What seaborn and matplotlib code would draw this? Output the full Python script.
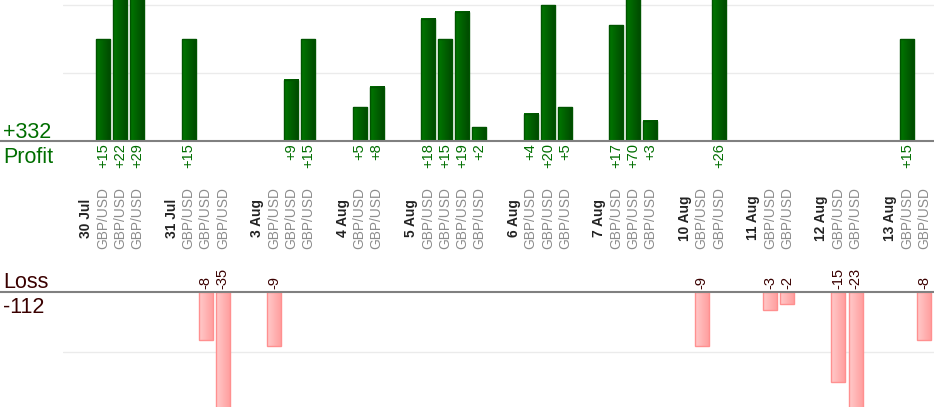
import matplotlib.pyplot as plt
import matplotlib.transforms as mtransforms
from matplotlib.colors import LinearSegmentedColormap
import numpy as np
import pandas as pd
import seaborn as sns

# данные: дни и результаты сделок (в пунктах)
dates = ["30 Jul", "31 Jul", "3 Aug", "4 Aug", "5 Aug", "6 Aug",
         "7 Aug", "10 Aug", "11 Aug", "12 Aug", "13 Aug"]
trade_results = [
    [15, 22, 29],
    [15, -8, -35],
    [-9, 9, 15],
    [5, 8],
    [18, 15, 19, 2],
    [4, 20, 5],
    [17, 70, 3],
    [-9, 26],
    [-3, -2],
    [-15, -23],
    [15, -8],
]
pair = "GBP/USD"
total_profit = "+332"
total_loss = "-112"

sns.set_style("white")
plt.rcParams['font.family'] = ['Liberation Sans', 'DejaVu Sans']

# слоты: дата, сделки, пустой промежуток
rows = []
for i, (d, res) in enumerate(zip(dates, trade_results)):
    rows.append(dict(label=d, kind="date", value=np.nan))
    for v in res:
        rows.append(dict(label=pair, kind="trade", value=v))
    if i < len(dates) - 1:
        rows.append(dict(label="", kind="gap", value=np.nan))
df = pd.DataFrame(rows)
df["slot"] = np.arange(len(df))
order = list(df["slot"])

W, H = 934, 420
fig = plt.figure(figsize=(W / 100, H / 100), dpi=100)


def px_axes(left, top, right, bottom):
    return fig.add_axes([left / W, 1 - bottom / H, (right - left) / W, (bottom - top) / H])


ax_p = px_axes(63, 0, 934, 141)
ax_l = px_axes(63, 292, 934, 407)

green = "#006e00"
dark = "#3a0000"

prof = df[df["value"] > 0]
loss = df[df["value"] < 0]
sns.barplot(data=prof, x="slot", y="value", order=order, width=0.82,
            errorbar=None, color="#005f00", ax=ax_p)
sns.barplot(data=loss, x="slot", y="value", order=order, width=0.82,
            errorbar=None, color="#ffaaaa", ax=ax_l)

xlim = (-1.345, 49.585)
ylims = {ax_p: (0, 20.74), ax_l: (-19.07, 0)}


def gradient_bars(ax, colors, edge):
    # горизонтальный градиент внутри каждого столбца
    cmap = LinearSegmentedColormap.from_list("grad", colors)
    grad = np.linspace(0, 1, 64).reshape(1, -1)
    lo, hi = ylims[ax]
    for p in list(ax.patches):
        h = p.get_height()
        if not np.isfinite(h) or h == 0:
            continue
        x0, y0, w = p.get_x(), p.get_y(), p.get_width()
        b = max(min(y0, y0 + h), lo)
        t = min(max(y0, y0 + h), hi)
        ax.imshow(grad, extent=[x0, x0 + w, b, t], cmap=cmap, aspect="auto",
                  interpolation="bilinear", zorder=2)
        p.set_facecolor("none")
        p.set_edgecolor(edge)
        p.set_linewidth(1.0)
        p.set_zorder(3)


gradient_bars(ax_p, ["#007800", "#004800"], "#005400")
gradient_bars(ax_l, ["#ffcaca", "#ff9c9c"], "#ff9090")

for ax in (ax_p, ax_l):
    ax.set_xlim(*xlim)
    ax.set_ylim(*ylims[ax])
    ax.set_xlabel("")
    ax.set_ylabel("")
    ax.set_xticks([])
    ax.tick_params(length=0, labelleft=False)
    ax.yaxis.grid(True, color="#ebebeb", lw=1)
    ax.set_axisbelow(True)
    for s in ax.spines.values():
        s.set_visible(False)

ax_p.set_yticks([10, 20])
ax_l.set_yticks([-10])

# нулевые линии через всю ширину
ax_p.axhline(0, xmin=-63 / 871, xmax=1, color="#808080", lw=1.5, clip_on=False, zorder=5)
ax_l.axhline(0, xmin=-63 / 871, xmax=1, color="#808080", lw=1.5, clip_on=False, zorder=5)

# подписи значений
for _, r in prof.iterrows():
    ax_p.text(r["slot"], -2 / 6.8, f"+{int(r['value'])}", rotation=90,
              ha="center", va="top", color=green, fontsize=10.5)
for _, r in loss.iterrows():
    ax_l.text(r["slot"], 3 / 6.03, f"{int(r['value'])}", rotation=90,
              ha="center", va="bottom", color=dark, fontsize=10.5)

# подписи оси X
trans = mtransforms.blended_transform_factory(ax_p.transData, fig.transFigure)
for _, r in df.iterrows():
    if r["kind"] == "date":
        ax_p.text(r["slot"], 1 - 218 / H, r["label"], transform=trans, rotation=90,
                  ha="center", va="center", fontsize=9.9, fontweight="bold", color="#222222")
    elif r["kind"] == "trade":
        ax_p.text(r["slot"], 1 - 218 / H, r["label"], transform=trans, rotation=90,
                  ha="center", va="center", fontsize=9.9, color="#8c8c8c")

# итоги слева
fig.text(3 / W, 1 - 138 / H, total_profit, va="baseline", ha="left", fontsize=15.5, color=green)
fig.text(3 / W, 1 - 163 / H, "Profit", va="baseline", ha="left", fontsize=15.5, color=green)
fig.text(3 / W, 1 - 288 / H, "Loss", va="baseline", ha="left", fontsize=15.5, color=dark)
fig.text(3 / W, 1 - 313 / H, total_loss, va="baseline", ha="left", fontsize=15.5, color=dark)

fig.savefig("out.png", dpi=100)
